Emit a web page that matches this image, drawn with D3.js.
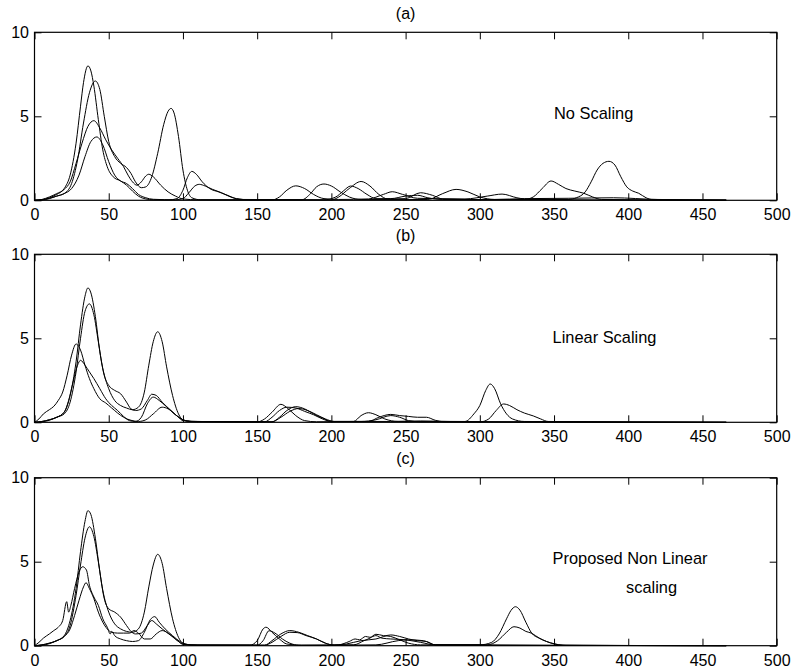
<!DOCTYPE html>
<html lang="en">
<head>
<meta charset="UTF-8">
<title>Scaling comparison</title>
<style>
  body { margin: 0; background: #fff; }
  svg text { font-family: "Liberation Sans", Arial, Helvetica, sans-serif; fill: #000; }
</style>
</head>
<body>
<script src="https://cdnjs.cloudflare.com/ajax/libs/d3/7.8.5/d3.min.js"></script>
<script>
// tick values shared by the three panels
const xTicks = [0, 50, 100, 150, 200, 250, 300, 350, 400, 450, 500];
const yTicks = [0, 5, 10];
const panelTitles = ['(a)', '(b)', '(c)'];
const panelNotes = [['No Scaling'], ['Linear Scaling'], ['Proposed Non Linear', 'scaling']];

// (a) no scaling - [x, value]
const a1 = [[0,0],[5,0.03],[10,0.15],[15,0.35],[20,0.7],[24,1.5],[28,3.4],[31,5.6],[33,7.0],[36,8.0],[38,7.7],[40,6.8],[43,4.8],[46,3.0],[49,2.0],[53,1.4],[58,1.15],[62,0.9],[66,0.55],[70,0.25],[75,0.08],[80,0.03],[90,0.02],[96,0.1],[100,0.6],[103,1.35],[106,1.72],[109,1.55],[113,1.1],[118,0.7],[124,0.5],[130,0.3],[136,0.1],[145,0.03],[160,0.02],[165,0.2],[170,0.6],[176,0.86],[182,0.7],[188,0.35],[195,0.1],[205,0.05],[225,0.08],[235,0.35],[241,0.51],[248,0.35],[258,0.12],[290,0.08],[305,0.25],[315,0.37],[325,0.15],[335,0.04],[400,0.02],[466,0]];
const a2 = [[0,0],[5,0.02],[10,0.1],[15,0.25],[20,0.4],[25,1.0],[29,2.4],[33,4.6],[37,6.4],[41,7.1],[44,6.6],[47,5.0],[50,3.5],[54,2.6],[58,2.2],[62,1.95],[65,1.6],[68,1.1],[72,0.75],[75,0.8],[79,1.4],[83,2.8],[87,4.5],[90,5.3],[92,5.47],[94,5.2],[97,3.8],[100,1.8],[103,0.6],[106,0.15],[112,0.03],[150,0.02],[200,0.02],[205,0.2],[212,0.7],[220,1.12],[226,0.85],[232,0.35],[238,0.08],[250,0.1],[260,0.45],[268,0.3],[275,0.08],[300,0.04],[360,0.05],[365,0.15],[371,0.5],[375,1.1],[379,1.8],[383,2.2],[387,2.32],[391,2.1],[395,1.4],[399,0.8],[403,0.55],[407,0.42],[412,0.15],[417,0.03],[466,0.01]];
const a3 = [[0,0],[5,0.05],[10,0.2],[15,0.4],[20,0.65],[24,1.1],[28,2.2],[32,3.4],[36,4.4],[40,4.74],[44,4.3],[48,3.6],[52,3.0],[56,2.5],[60,2.0],[63,1.5],[66,1.1],[69,0.9],[72,1.1],[75,1.45],[77,1.55],[80,1.4],[85,0.9],[90,0.5],[95,0.25],[100,0.08],[110,0.03],[180,0.03],[186,0.4],[190,0.8],[195,0.97],[200,0.85],[206,0.5],[212,0.2],[220,0.05],[265,0.05],[275,0.4],[284,0.65],[292,0.5],[300,0.2],[310,0.05],[330,0.05],[336,0.2],[342,0.7],[348,1.15],[353,0.95],[358,0.7],[364,0.55],[370,0.42],[376,0.2],[382,0.05],[466,0]];
const a4 = [[0,0],[5,0.03],[10,0.12],[15,0.25],[20,0.4],[25,0.7],[30,1.5],[34,2.6],[38,3.5],[42,3.77],[46,3.3],[50,2.3],[54,1.5],[58,1.15],[62,1.0],[66,0.7],[70,0.35],[75,0.15],[80,0.06],[95,0.03],[100,0.1],[104,0.45],[108,0.85],[111,0.95],[115,0.85],[120,0.65],[126,0.45],[132,0.2],[140,0.05],[195,0.03],[203,0.2],[208,0.55],[213,0.85],[218,0.7],[224,0.35],[230,0.1],[240,0.1],[250,0.25],[258,0.3],[265,0.15],[275,0.05],[310,0.05],[330,0.1],[360,0.12],[390,0.15],[420,0.05],[466,0.02]];

// (b) linear scaling
const b1 = [[0,0],[5,0.05],[10,0.15],[15,0.3],[20,0.6],[24,1.6],[28,3.6],[31,5.8],[34,7.5],[36,8.0],[38,7.7],[41,6.3],[44,4.2],[47,2.8],[50,2.2],[54,1.9],[58,1.7],[62,1.2],[65,0.8],[68,0.7],[72,0.8],[76,1.3],[79,1.67],[82,1.6],[86,1.2],[92,0.7],[97,0.3],[100,0.1],[110,0.05],[150,0.02],[155,0.2],[160,0.6],[166,1.07],[171,0.8],[176,0.4],[182,0.1],[190,0.03],[215,0.05],[220,0.4],[225,0.57],[230,0.45],[236,0.2],[245,0.05],[290,0.05],[296,0.5],[300,1.0],[304,1.9],[307,2.28],[310,2.0],[314,1.1],[318,0.5],[322,0.2],[330,0.05],[466,0]];
const b2 = [[0,0],[5,0.03],[10,0.12],[15,0.3],[20,0.5],[24,1.2],[28,3.0],[31,5.0],[34,6.6],[37,7.05],[40,6.4],[43,4.8],[46,3.2],[50,2.0],[54,1.3],[58,1.0],[62,0.85],[66,0.75],[70,0.9],[74,1.8],[77,3.4],[80,4.8],[83,5.39],[86,4.8],[89,3.3],[93,1.6],[97,0.5],[100,0.15],[106,0.05],[160,0.03],[165,0.3],[170,0.7],[176,0.93],[182,0.8],[188,0.5],[194,0.25],[200,0.05],[225,0.05],[232,0.3],[240,0.47],[246,0.4],[252,0.35],[258,0.3],[264,0.3],[270,0.12],[276,0.03],[300,0.02],[306,0.2],[311,0.7],[316,1.09],[320,1.0],[325,0.75],[330,0.55],[336,0.38],[341,0.2],[346,0.05],[466,0]];
const b3 = [[0,0],[3,0.2],[6,0.5],[10,0.75],[13,0.95],[16,1.3],[19,1.8],[22,2.8],[25,4.0],[28,4.66],[31,4.3],[34,3.4],[37,2.6],[40,2.0],[44,1.4],[48,1.15],[52,0.85],[56,0.55],[60,0.3],[65,0.12],[70,0.05],[75,0.15],[80,0.5],[86,0.9],[90,0.8],[95,0.45],[100,0.15],[106,0.05],[160,0.03],[166,0.3],[172,0.65],[178,0.82],[184,0.7],[190,0.45],[196,0.2],[202,0.05],[220,0.05],[230,0.15],[240,0.4],[246,0.3],[252,0.1],[260,0.03],[466,0]];
const b4 = [[0,0],[5,0.05],[10,0.15],[15,0.3],[20,0.6],[23,1.3],[26,2.4],[29,3.4],[31,3.69],[34,3.4],[37,3.0],[40,2.6],[44,2.0],[48,1.4],[52,1.0],[56,0.7],[60,0.35],[64,0.1],[68,0.05],[72,0.3],[76,1.1],[80,1.5],[84,1.3],[88,1.0],[93,0.6],[98,0.25],[102,0.08],[110,0.03],[155,0.03],[160,0.3],[165,0.7],[170,0.9],[176,0.85],[182,0.65],[188,0.45],[194,0.2],[200,0.05],[240,0.05],[260,0.08],[280,0.05],[466,0]];

// (c) proposed non linear scaling
const c1 = [[0,0],[5,0.05],[10,0.15],[15,0.3],[20,0.6],[24,1.5],[28,3.4],[31,5.6],[34,7.4],[36,8.04],[38,7.8],[41,6.4],[44,4.4],[47,2.8],[50,2.2],[54,2.0],[58,1.7],[62,1.2],[65,0.85],[68,0.7],[72,0.75],[76,1.2],[79,1.5],[82,1.3],[86,1.0],[92,0.6],[97,0.25],[100,0.08],[110,0.03],[145,0.03],[150,0.3],[154,1.0],[156,1.1],[160,0.8],[165,0.4],[170,0.1],[180,0.03],[215,0.05],[222,0.3],[226,0.45],[230,0.68],[235,0.6],[240,0.55],[246,0.35],[252,0.15],[260,0.05],[300,0.05],[308,0.2],[313,0.7],[318,1.6],[321,2.1],[324,2.32],[327,2.12],[331,1.4],[335,0.74],[340,0.45],[345,0.25],[350,0.1],[358,0.02],[466,0]];
const c2 = [[0,0],[5,0.03],[10,0.12],[15,0.3],[20,0.55],[24,1.2],[28,3.0],[31,4.8],[34,6.4],[37,7.08],[40,6.5],[43,5.0],[46,3.3],[50,2.0],[54,1.3],[58,1.0],[62,0.85],[66,0.8],[70,1.0],[74,2.0],[77,3.5],[80,4.8],[83,5.44],[86,4.9],[89,3.4],[93,1.6],[97,0.5],[100,0.15],[106,0.05],[150,0.03],[154,0.3],[158,0.89],[162,0.75],[167,0.4],[172,0.15],[178,0.03],[200,0.03],[210,0.1],[220,0.3],[230,0.4],[240,0.64],[246,0.55],[252,0.4],[258,0.3],[264,0.25],[270,0.05],[305,0.05],[312,0.3],[318,0.8],[323,1.13],[327,1.05],[331,0.85],[335,0.74],[340,0.45],[345,0.25],[350,0.12],[356,0.03],[466,0]];
const c3 = [[0,0],[3,0.2],[6,0.45],[10,0.7],[13,0.9],[16,1.1],[19,1.5],[21.7,2.62],[23,2.0],[24.5,2.4],[27,3.4],[30,4.4],[32.5,4.7],[35,4.5],[37,3.6],[40,2.9],[43,2.4],[46,1.6],[49,1.1],[51,0.7],[52,0.85],[54,0.6],[58,0.4],[62,0.3],[66,0.25],[70,0.3],[74,0.8],[78,1.55],[81,1.73],[84,1.4],[88,1.0],[93,0.6],[98,0.25],[102,0.08],[110,0.03],[155,0.03],[160,0.3],[166,0.7],[172,0.9],[178,0.8],[184,0.6],[190,0.4],[196,0.15],[202,0.03],[205,0.05],[212,0.25],[216,0.4],[219,0.35],[223,0.55],[226,0.5],[230,0.6],[234,0.45],[240,0.4],[250,0.35],[260,0.2],[270,0.05],[466,0]];
const c4 = [[0,0],[5,0.05],[10,0.15],[15,0.3],[20,0.55],[24,1.0],[27,1.8],[30,2.7],[33,3.5],[34.7,3.75],[37,3.4],[40,2.8],[43,2.0],[46,1.4],[49,1.0],[52,0.8],[56,0.75],[60,0.75],[64,0.75],[67,0.9],[70,0.75],[74,0.4],[78,0.4],[82,0.7],[86,0.9],[90,0.75],[95,0.4],[100,0.1],[110,0.03],[155,0.03],[160,0.2],[166,0.55],[172,0.8],[177,0.78],[183,0.6],[190,0.4],[196,0.15],[202,0.03],[230,0.05],[245,0.3],[252,0.35],[262,0.3],[270,0.05],[466,0]];

const panelCurves = [[a1, a2, a3, a4], [b1, b2, b3, b4], [c1, c2, c3, c4]];

// layout (pixels)
var width = 792, height = 671;
var left = 34.5, right = 776.7;
var panelTop = [32.3, 254.3, 477.7];
var panelH = 168;
// where the notes sit, in data units: [x, y] for each line
var notePos = [[[350, 4.85]], [[349, 4.75]], [[349, 4.85], [398.5, 3.15]]];

var x = d3.scaleLinear().domain([0, 500]).range([left, right]);

var svg = d3.select('body')
    .append('svg')
    .attr('width', width)
    .attr('height', height);

panelCurves.forEach(function (curves, p) {
    var top = panelTop[p];
    var y = d3.scaleLinear().domain([0, 10]).range([top + panelH, top]);
    var g = svg.append('g');

    // inward ticks on every side, like the matlab box
    g.append('g')
        .attr('transform', 'translate(0,' + (top + panelH) + ')')
        .call(d3.axisBottom(x).tickValues(xTicks).tickSize(-7).tickPadding(8.5).tickFormat(d3.format('d')));
    g.append('g')
        .attr('transform', 'translate(0,' + top + ')')
        .call(d3.axisTop(x).tickValues(xTicks).tickSize(-7).tickFormat(''));
    g.append('g')
        .attr('transform', 'translate(' + left + ',0)')
        .call(d3.axisLeft(y).tickValues(yTicks).tickSize(-7).tickPadding(5.5));
    g.append('g')
        .attr('transform', 'translate(' + right + ',0)')
        .call(d3.axisRight(y).tickValues(yTicks).tickSize(-7).tickFormat(''));

    g.selectAll('.domain').remove();
    g.selectAll('.tick line').attr('stroke', '#000').attr('stroke-width', 1);
    g.selectAll('.tick text').style('font-size', '16px').attr('fill', '#000');

    var line = d3.line()
        .x(function (d) { return x(d[0]); })
        .y(function (d) { return y(d[1]); })
        .curve(d3.curveMonotoneX);

    g.selectAll('.curve')
        .data(curves)
        .enter()
        .append('path')
        .attr('class', 'curve')
        .attr('d', line)
        .attr('fill', 'none')
        .attr('stroke', '#000')
        .attr('stroke-width', 1);

    // box
    g.append('rect')
        .attr('x', left)
        .attr('y', top)
        .attr('width', right - left)
        .attr('height', panelH)
        .attr('fill', 'none')
        .attr('stroke', '#000')
        .attr('stroke-width', 1.2);

    // panel letter
    g.append('text')
        .attr('x', (left + right) / 2)
        .attr('y', top - 13.5)
        .attr('text-anchor', 'middle')
        .style('font-size', '16px')
        .text(panelTitles[p]);

    // note inside the box
    panelNotes[p].forEach(function (t, i) {
        g.append('text')
            .attr('x', x(notePos[p][i][0]))
            .attr('y', y(notePos[p][i][1]))
            .style('font-size', '16.4px')
            .text(t);
    });
});
</script>
</body>
</html>
